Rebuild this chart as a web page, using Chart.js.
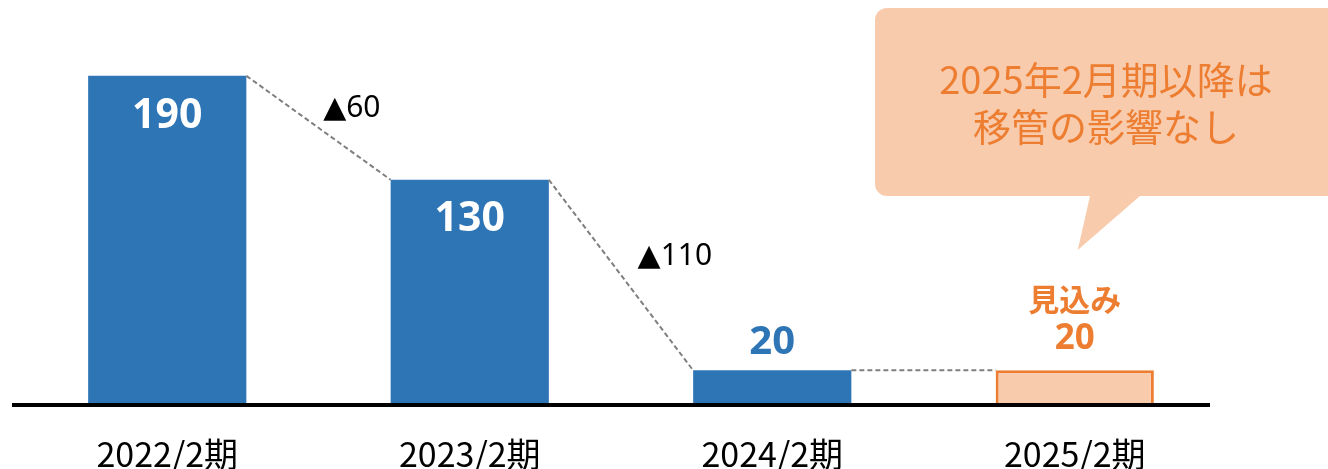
<!DOCTYPE html>
<html lang="ja">
<head>
<meta charset="utf-8">
<script src="https://cdn.jsdelivr.net/npm/chart.js@4.4.1/dist/chart.umd.min.js"></script>
<style>
html, body { margin: 0; padding: 0; background: #fff; }
#wrap { width: 1328px; height: 469px; position: relative; }
</style>
</head>
<body>
<div id="wrap"><canvas id="chart"></canvas></div>
<script>
// --- データ ---
const categories = ['2022/2期', '2023/2期', '2024/2期', '2025/2期'];
const values = [190, 130, 20, 20];
const isForecast = [false, false, false, true];
const diffLabels = ['▲60', '▲110', ''];
const forecastLabel = '見込み';
const calloutLines = ['2025年2月期以降は', '移管の影響なし'];

// --- 色 ---
const BLUE = '#2E75B6';
const ORANGE = '#ED7D31';
const PEACH = '#F8CBAD';
const CJK = "'Noto Sans CJK JP', sans-serif";
const NUM = "'Noto Sans', 'DejaVu Sans', 'Noto Sans CJK JP', sans-serif";

// 棒の上のラベル、差分の点線、吹き出し、軸ラベルを描く
const decorPlugin = {
    id: 'decor',
    afterDatasetsDraw(chart) {
        const ctx = chart.ctx;
        const bars = chart.getDatasetMeta(0).data;
        const yScale = chart.scales.y;
        const xScale = chart.scales.x;
        const y0 = yScale.getPixelForValue(0);

        ctx.save();

        // 前年との差分をつなぐ点線
        for (let i = 0; i < bars.length - 1; i++) {
            const a = bars[i], b = bars[i + 1];
            const x1 = a.x + a.width / 2, y1 = a.y;
            const x2 = b.x - b.width / 2, y2 = b.y;
            ctx.strokeStyle = '#7F7F7F';
            ctx.lineWidth = 2;
            ctx.setLineDash([5, 3]);
            ctx.beginPath();
            ctx.moveTo(x1, y1);
            ctx.lineTo(x2, y2);
            ctx.stroke();
            if (diffLabels[i]) {
                // 線上の同じ高さの点から右へずらして置く
                const ly = (y1 + y2) / 2 - 19;
                const lx = x1 + (ly - y1) / (y2 - y1) * (x2 - x1) + 31;
                ctx.fillStyle = '#000';
                ctx.font = `30px ${NUM}`;
                ctx.textAlign = 'left';
                ctx.textBaseline = 'middle';
                ctx.fillText(diffLabels[i], lx, ly);
            }
        }
        ctx.setLineDash([]);

        // 値ラベル
        bars.forEach((bar, i) => {
            const h = y0 - bar.y;
            ctx.textAlign = 'center';
            ctx.textBaseline = 'middle';
            if (h > 80) {
                ctx.fillStyle = '#fff';
                ctx.font = `bold 41px ${NUM}`;
                ctx.fillText(values[i], bar.x, bar.y + 40);
            } else if (isForecast[i]) {
                ctx.fillStyle = ORANGE;
                ctx.font = `bold 35px ${NUM}`;
                ctx.fillText(values[i], bar.x, bar.y - 31);
                ctx.font = `bold 31px ${CJK}`;
                ctx.fillText(forecastLabel, bar.x, bar.y - 71);
            } else {
                ctx.fillStyle = BLUE;
                ctx.font = `bold 40px ${NUM}`;
                ctx.fillText(values[i], bar.x, bar.y - 28);
            }
        });

        // 基準線
        ctx.strokeStyle = '#000';
        ctx.lineWidth = 4;
        ctx.beginPath();
        ctx.moveTo(12, y0);
        ctx.lineTo(1210, y0);
        ctx.stroke();

        // 軸ラベル
        ctx.fillStyle = '#000';
        ctx.font = `34px ${CJK}`;
        ctx.textAlign = 'center';
        ctx.textBaseline = 'alphabetic';
        categories.forEach((c, i) => {
            ctx.fillText(c, xScale.getPixelForValue(i), 467);
        });

        // 吹き出し
        const last = bars[bars.length - 1];
        const tipX = last.x + 3, tipY = 250;
        const bx = 875, by = 8, bw = 480, bh = 188, r = 12;
        ctx.fillStyle = PEACH;
        ctx.beginPath();
        ctx.moveTo(bx + r, by);
        ctx.lineTo(bx + bw - r, by);
        ctx.arcTo(bx + bw, by, bx + bw, by + r, r);
        ctx.lineTo(bx + bw, by + bh - r);
        ctx.arcTo(bx + bw, by + bh, bx + bw - r, by + bh, r);
        ctx.lineTo(1140, by + bh);
        ctx.lineTo(tipX, tipY);
        ctx.lineTo(1090, by + bh);
        ctx.lineTo(bx + r, by + bh);
        ctx.arcTo(bx, by + bh, bx, by + bh - r, r);
        ctx.lineTo(bx, by + r);
        ctx.arcTo(bx, by, bx + r, by, r);
        ctx.closePath();
        ctx.fill();

        ctx.fillStyle = ORANGE;
        ctx.font = `38px ${CJK}`;
        ctx.textAlign = 'center';
        ctx.textBaseline = 'middle';
        calloutLines.forEach((line, i) => {
            ctx.fillText(line, 1106, 80 + i * 47);
        });

        ctx.restore();
    }
};

new Chart(document.getElementById('chart'), {
    type: 'bar',
    data: {
        labels: categories,
        datasets: [{
            data: values,
            backgroundColor: isForecast.map(f => f ? PEACH : BLUE),
            borderColor: isForecast.map(f => f ? ORANGE : BLUE),
            borderWidth: isForecast.map(f => f ? 3 : 0),
            borderSkipped: 'start',
            categoryPercentage: 1,
            barPercentage: 0.523
        }]
    },
    options: {
        responsive: true,
        maintainAspectRatio: false,
        animation: false,
        layout: { padding: { left: 16, right: 102, top: 10, bottom: 64 } },
        plugins: {
            legend: { display: false },
            tooltip: { enabled: false }
        },
        scales: {
            x: { display: false },
            y: { display: false, min: 0, max: 228 }
        }
    },
    plugins: [decorPlugin]
});
</script>
</body>
</html>
